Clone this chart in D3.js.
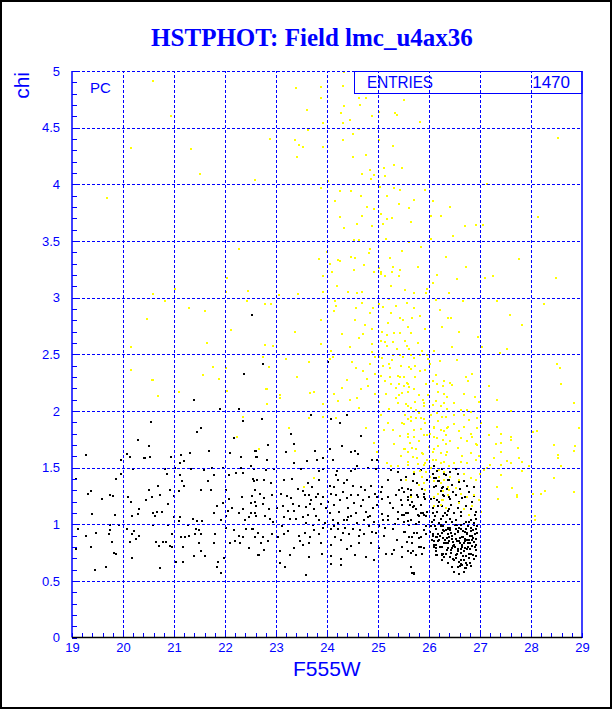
<!DOCTYPE html>
<meta charset="utf-8">
<script src="https://d3js.org/d3.v7.min.js"></script>
<style>
  body { margin: 0; background: #fff; }
</style>
<div id="my_dataviz"></div>
<script>
// ---- data ----
var title = "HSTPHOT: Field lmc_u4ax36";
var xTitle = "F555W", yTitle = "chi";
var cornerLabel = "PC";
var statsLabel = "ENTRIES", statsValue = "1470";
var xTicks = [19, 20, 21, 22, 23, 24, 25, 26, 27, 28, 29];
var yTicks = [0, 0.5, 1, 1.5, 2, 2.5, 3, 3.5, 4, 4.5, 5];

// accepted stars [F555W, chi]
var blackStars = [
[21.39,2.10],[21.91,2.02],[22.28,2.02],[22.35,1.91],[20.55,1.90],[21.45,1.81],[21.53,1.85],[20.29,1.74],[20.50,1.69],[22.18,1.76],[22.59,1.65],[19.28,1.61],[20.08,1.62],[20.14,1.59],[19.97,1.57],[20.41,1.58],[20.44,1.58],[20.53,1.59],[20.95,1.59],[21.14,1.61],[21.31,1.63],[21.20,1.56],[21.11,1.54],[21.69,1.65],[22.10,1.63],[22.31,1.59],[22.61,1.59],[20.20,1.49],[20.83,1.49],[21.02,1.50],[21.33,1.49],[21.58,1.48],[21.75,1.50],[21.97,1.50],[22.31,1.50],[22.50,1.51],
[19.08,1.40],[19.86,1.40],[19.96,1.44],[20.86,1.44],[21.12,1.43],[21.16,1.38],[21.19,1.34],[21.79,1.43],[22.07,1.43],[22.22,1.45],[22.35,1.45],[21.67,1.38],[22.56,1.38],[20.69,1.34],[20.51,1.30],[20.93,1.30],[21.09,1.29],[21.52,1.30],[21.73,1.30],[22.01,1.30],[19.32,1.27],[19.37,1.29],[19.74,1.26],[19.80,1.25],[19.58,1.22],[20.10,1.24],[20.73,1.26],[20.46,1.21],[21.00,1.25],[20.56,1.24],[22.08,1.22],[22.34,1.24],[22.53,1.25],[22.58,1.20],[21.96,1.19],[20.16,1.20],[20.88,1.18],[21.84,1.16],[20.31,1.13],
[19.39,1.09],[19.84,1.08],[20.18,1.07],[20.29,1.09],[20.58,1.10],[20.62,1.07],[20.66,1.11],[20.76,1.11],[21.00,1.06],[21.12,1.06],[21.38,1.05],[21.46,1.03],[21.54,1.03],[21.79,1.10],[21.92,1.04],[22.01,1.07],[22.06,1.12],[22.14,1.14],[22.27,1.10],[22.35,1.13],[22.48,1.06],[22.59,1.10],[22.39,1.04],
[19.12,0.96],[19.28,0.90],[19.47,0.92],[19.74,0.99],[19.74,0.95],[19.73,0.91],[19.93,0.99],[20.08,0.96],[20.17,0.91],[20.21,0.94],[20.26,0.87],[20.31,0.90],[20.59,0.99],[20.88,0.99],[20.97,0.91],[21.09,1.03],[21.14,0.89],[21.21,0.89],[21.28,0.99],[21.30,0.90],[21.42,0.91],[21.49,0.95],[21.53,0.91],[21.44,0.96],[21.80,0.91],[22.01,0.97],[22.17,0.95],[22.28,0.90],[22.35,0.89],[22.42,0.96],[22.52,0.96],[22.58,0.89],
[19.37,0.80],[19.78,0.84],[20.14,0.84],[20.65,0.84],[20.71,0.81],[20.85,0.84],[20.93,0.81],[20.97,0.80],[20.78,0.84],[21.18,0.80],[21.49,0.83],[21.79,0.83],[22.09,0.83],[22.20,0.85],[22.30,0.83],[22.48,0.79],[19.08,0.78],[19.82,0.75],[19.86,0.74],[20.18,0.70],[21.52,0.76],[21.61,0.72],[21.39,0.72],[21.99,0.70],[21.03,0.67],[21.18,0.67],[21.86,0.67],[22.66,0.73],[19.45,0.60],[19.67,0.62],[20.73,0.61],[21.84,0.62],[21.93,0.57],
[22.52,2.85],[22.74,2.41],[22.38,2.33],[24.01,2.43],
[22.73,1.93],[23.69,1.96],[24.07,1.93],[24.39,1.96],[24.26,1.89],[23.29,1.80],[22.85,1.70],[23.35,1.71],[24.67,1.78],[22.60,1.65],[23.19,1.64],[23.76,1.65],[24.05,1.66],[24.29,1.69],[24.47,1.64],[24.54,1.65],[24.61,1.62],[24.88,1.57],[24.98,1.57],[22.63,1.59],[22.82,1.57],[23.35,1.54],[23.61,1.56],[23.80,1.57],[23.93,1.58],[24.11,1.57],[24.59,1.51],[24.80,1.50],[22.51,1.51],[22.57,1.49],
[22.80,1.48],[22.97,1.49],[23.49,1.49],[23.85,1.47],[23.92,1.49],[24.17,1.43],[24.20,1.47],[24.47,1.47],[24.55,1.49],[24.96,1.49],[25.25,1.48],[25.39,1.46],[25.71,1.44],[25.84,1.48],[26.07,1.44],[26.14,1.41],[26.30,1.44],[22.54,1.40],[22.63,1.39],[22.76,1.39],[22.90,1.36],[23.16,1.39],[23.31,1.40],[23.62,1.36],[23.70,1.33],[23.85,1.39],[24.05,1.34],[24.13,1.33],[24.22,1.39],[24.33,1.36],[24.39,1.39],[24.50,1.34],[24.67,1.33],[24.86,1.34],[25.08,1.33],[25.19,1.39],[25.46,1.39],[25.68,1.38],[25.97,1.39],[26.09,1.33],[26.17,1.38],[26.25,1.32],[26.37,1.39],
[22.59,1.30],[22.69,1.27],[22.77,1.23],[22.92,1.26],[23.10,1.27],[23.22,1.25],[23.29,1.23],[23.52,1.29],[23.56,1.26],[23.65,1.26],[23.69,1.21],[23.78,1.24],[23.92,1.24],[24.08,1.27],[24.18,1.26],[24.31,1.28],[24.39,1.23],[24.47,1.26],[24.60,1.26],[24.70,1.21],[24.83,1.24],[24.94,1.27],[24.98,1.24],[25.07,1.22],[25.19,1.24],[25.35,1.26],[25.46,1.21],[25.58,1.24],[25.65,1.26],[25.78,1.24],[25.91,1.27],[26.04,1.22],[26.15,1.21],[26.27,1.26],[26.40,1.24],
[22.51,1.19],[22.61,1.16],[22.74,1.18],[22.87,1.13],[23.02,1.14],[23.13,1.16],[23.23,1.12],[23.36,1.12],[23.46,1.16],[23.59,1.15],[23.67,1.18],[23.75,1.13],[23.88,1.18],[23.98,1.14],[24.05,1.10],[24.14,1.17],[24.24,1.11],[24.41,1.14],[24.41,1.06],[24.39,1.04],[24.47,1.07],[24.57,1.10],[24.67,1.16],[24.76,1.11],[24.90,1.14],[24.99,1.17],[25.07,1.09],[25.19,1.07],[25.29,1.14],[25.39,1.11],[25.48,1.08],[25.58,1.10],[25.68,1.15],[25.78,1.08],[25.88,1.10],[25.97,1.11],[26.07,1.10],[26.17,1.16],[26.27,1.07],[26.37,1.12],
[22.51,1.10],[22.61,1.07],[22.78,1.07],[22.89,1.05],[23.16,1.06],[23.28,1.05],[23.39,1.05],[23.52,1.06],[23.63,1.08],[23.78,1.07],[23.85,1.04],[23.96,1.01],[24.11,1.04],[24.21,1.01],[24.34,1.04],[24.59,1.01],[24.72,1.04],[24.81,1.06],[24.93,1.02],[25.10,1.04],[25.20,1.04],[25.39,1.05],[25.58,1.03],[25.81,1.02],[25.94,1.07],
[22.54,0.96],[22.64,0.92],[22.74,0.89],[22.93,0.91],[23.03,0.89],[23.16,0.91],[23.46,0.90],[23.56,0.92],[23.67,0.89],[23.75,0.95],[23.85,0.91],[23.93,0.97],[24.07,0.96],[24.14,0.98],[24.22,0.96],[24.31,0.92],[24.44,0.91],[24.50,0.96],[24.63,0.90],[24.73,0.91],[24.83,0.98],[24.88,0.93],[25.02,0.98],[25.12,0.90],[25.29,0.96],[25.52,0.93],[25.61,0.89],[25.71,0.92],[25.84,0.89],[25.94,0.91],[26.07,0.91],[26.17,0.91],[26.27,0.98],[26.37,0.96],
[22.71,0.83],[22.85,0.85],[23.07,0.76],[23.36,0.79],[23.52,0.82],[23.65,0.83],[23.88,0.83],[24.08,0.82],[24.27,0.86],[24.47,0.81],[24.63,0.83],[24.86,0.83],[25.02,0.79],[25.32,0.77],[25.48,0.80],[25.65,0.75],[25.91,0.79],[26.14,0.82],[26.27,0.74],[26.37,0.83],[22.64,0.73],[22.77,0.77],[23.28,0.73],[23.65,0.71],[24.08,0.72],[24.27,0.69],[24.54,0.73],[24.76,0.71],[25.15,0.74],[25.28,0.74],[25.48,0.71],[25.68,0.76],[26.14,0.73],[23.08,0.66],[23.18,0.62],[24.08,0.65],[24.27,0.64],[23.59,0.55],[25.71,0.57],
[25.51,1.28],[25.58,1.31],[25.67,1.20],[25.74,1.13],[25.77,1.26],[25.84,1.17],[25.90,1.08],[25.93,1.22],[25.54,1.10],[25.64,1.04],[25.80,1.07],[25.48,1.17],
[26.10,1.51],[26.16,1.47],[26.26,1.49],[26.10,1.41],[26.20,1.38],[26.33,1.43],[26.42,1.46],[26.52,1.49],[26.13,1.34],[26.23,1.29],[26.36,1.31],[26.46,1.35],[26.59,1.37],[26.69,1.38],[26.82,1.41],
[26.10,1.23],[26.20,1.20],[26.29,1.25],[26.42,1.22],[26.52,1.26],[26.65,1.23],[26.78,1.28],[26.88,1.25],[26.07,1.14],[26.16,1.11],[26.26,1.16],[26.39,1.13],[26.49,1.10],[26.62,1.11],[26.72,1.16],[26.82,1.13],[26.92,1.11],
[26.10,1.04],[26.23,1.05],[26.33,1.02],[26.42,1.05],[26.52,1.04],[26.62,1.07],[26.72,1.02],[26.82,1.04],[26.92,1.05],[26.36,1.08],[26.56,1.14],
[25.51,0.93],[25.61,0.89],[25.71,0.92],[25.80,0.88],[25.90,0.95],[25.67,0.83],[25.84,0.80],[25.58,0.76],[25.74,0.73],[25.64,0.62],[25.71,0.56],
[26.03,0.98],[26.13,0.96],[26.23,0.98],[26.33,0.95],[26.42,0.97],[26.52,0.96],[26.62,0.99],[26.72,0.96],[26.82,0.97],[26.92,0.96],
[26.07,0.90],[26.16,0.89],[26.26,0.92],[26.36,0.88],[26.46,0.90],[26.56,0.93],[26.65,0.89],[26.75,0.91],[26.85,0.90],[26.95,0.92],
[26.10,0.85],[26.20,0.86],[26.29,0.83],[26.39,0.85],[26.49,0.82],[26.59,0.85],[26.69,0.83],[26.78,0.86],[26.88,0.84],[26.93,0.82],
[26.13,0.79],[26.26,0.80],[26.36,0.77],[26.46,0.79],[26.56,0.78],[26.65,0.80],[26.75,0.78],[26.85,0.81],[26.92,0.77],
[26.16,0.73],[26.33,0.74],[26.42,0.71],[26.52,0.73],[26.62,0.75],[26.72,0.72],[26.82,0.74],[26.49,0.68],[26.59,0.67],[26.69,0.68],[26.78,0.70],
[26.10,0.80],[26.26,0.73],[26.56,0.62],[26.65,0.64],[26.72,0.61],[26.49,0.58],[26.59,0.56],
[26.11,0.98],[26.24,0.99],[26.37,0.97],[26.50,0.99],[26.63,0.96],[26.76,0.98],[26.89,0.99],[26.30,0.94],[26.43,0.92],[26.57,0.94],[26.70,0.93],[26.83,0.94],[26.91,0.91],
[26.14,0.89],[26.27,0.88],[26.40,0.89],[26.53,0.87],[26.66,0.89],[26.74,0.86],[26.86,0.88],[26.17,0.85],[26.34,0.83],[26.47,0.84],[26.60,0.83],[26.71,0.85],[26.81,0.83],
[26.22,0.80],[26.37,0.79],[26.50,0.80],[26.63,0.78],[26.76,0.80],[26.43,0.75],[26.55,0.74],[26.68,0.76],[26.79,0.74],[26.48,0.69],[26.63,0.68],[26.73,0.66],[26.60,0.63],[26.70,0.61],
[26.09,0.82],[26.14,0.76],[26.25,0.74],[26.30,0.71],
[25.54,1.42],[25.48,1.32],[25.64,1.30],[25.77,1.36],[25.90,1.24],[25.58,1.21],[25.71,1.16],[25.84,1.10],[25.51,1.08],[25.61,0.99],[25.77,0.92],[25.67,0.89],[25.80,0.80],[25.58,0.76],[25.67,0.57],[25.87,0.74],
[26.41,0.95],[26.45,0.87],[26.47,0.81],[26.51,0.91],[26.54,0.85],[26.58,0.97],[26.61,0.88],[26.64,0.82],[26.67,0.94],[26.71,0.87],[26.74,0.92],[26.77,0.83],[26.80,0.90],[26.84,0.86],[26.87,0.95],[26.90,0.80],[26.93,0.87],[26.44,0.77],[26.53,0.70],[26.57,0.76],[26.66,0.72],[26.70,0.79],[26.81,0.78],[26.86,0.73],[26.89,0.69],[26.62,0.65],[26.75,0.64],[26.80,0.66],[26.55,0.99],[26.68,1.00],[26.78,1.02],[26.88,1.01],[26.46,1.02],[26.38,0.91],[26.32,0.86],[26.28,0.95],[26.21,0.90],[26.19,1.01],[26.31,1.10],[26.44,1.17],[26.58,1.20],[26.71,1.24],[26.85,1.20],[26.91,1.08],[26.95,0.98],[26.12,1.07],[26.06,1.02],[26.02,0.93],[26.05,0.86],[26.25,0.68],[26.38,0.66],[26.45,0.62],[26.68,0.58],[26.83,0.63],[26.93,0.72],[26.47,1.28],[26.61,1.31],[26.74,1.34],[26.39,1.39],[26.27,1.33],[26.57,1.44],[26.88,1.33],
[22.95,1.02],[23.12,0.98],[23.24,0.94],[23.33,1.18],[23.43,1.31],[23.58,1.01],[23.72,0.99],[23.83,1.27],[24.02,1.20],[24.16,0.89],[24.25,1.21],[24.36,0.97],[24.52,1.19],[24.65,0.95],[24.74,1.30],[24.85,1.07],[24.97,0.92],[25.05,1.28],[25.14,0.97],[25.23,1.19],[25.33,1.00],[25.41,1.30],[25.50,1.02],[25.57,0.84],[25.62,1.17],[25.75,1.00],[25.86,1.31],[25.95,0.98],[23.48,0.85],[24.40,0.78],[25.38,0.86],[23.90,0.74],[24.92,0.68]
];

// rejected stars [F555W, chi]
var yellowStars = [
[20.57,2.27],[20.69,2.13],[21.10,2.17],[22.03,2.18],[22.35,1.95],[22.24,1.77],[22.67,1.66],
[20.59,4.91],[20.95,4.60],[20.15,4.32],[21.33,4.31],[21.50,4.09],[19.69,3.88],[22.58,4.04],[22.89,4.40],[23.39,4.85],[23.88,4.86],[23.89,4.76],[23.61,4.66],[23.92,4.54],[23.63,4.48],[23.38,4.39],[23.46,4.35],[23.52,4.33],[23.42,4.24],[23.92,4.33],[24.01,4.03],[23.89,3.97],
[22.27,3.43],[23.84,3.34],[24.05,3.30],[23.93,3.19],[22.03,3.17],[22.01,3.05],[22.46,3.06],[23.92,3.05],[23.44,3.03],[23.05,3.02],[20.58,3.03],[21.01,3.08],[20.82,2.97],[21.29,2.91],[21.61,2.88],[22.44,2.97],[22.78,2.94],[22.91,2.94],[20.48,2.81],[22.11,2.71],[23.38,2.70],[23.89,2.80],
[20.16,2.56],[21.64,2.60],[22.78,2.58],[22.95,2.57],[23.88,2.59],[23.20,2.46],[23.64,2.43],[22.74,2.48],[22.87,2.39],[21.76,2.39],[22.01,2.38],[20.15,2.36],[21.56,2.32],[21.88,2.28],[20.58,2.27],[23.41,2.30],[22.80,2.19],
[24.33,4.99],[24.31,4.87],[24.62,4.76],[24.77,4.76],[24.34,4.69],[24.64,4.70],[25.51,4.74],[24.27,4.63],[24.45,4.57],[24.31,4.54],[24.88,4.60],[25.02,4.64],[25.34,4.63],[25.37,4.61],[25.83,4.55],[24.62,4.49],[24.50,4.44],[24.31,4.39],[25.01,4.39],[25.30,4.34],[24.50,4.24],[24.77,4.26],[25.11,4.14],[25.32,4.17],[25.47,4.14],[24.84,4.13],[24.69,4.09],[24.93,4.08],[24.86,4.05],[25.13,4.07],[28.52,4.41],
[24.26,3.94],[24.47,3.94],[24.67,3.90],[25.03,3.98],[25.18,3.90],[25.32,3.97],[25.44,3.95],[25.93,3.95],[25.71,3.86],[25.41,3.83],[25.60,3.79],[24.16,3.85],[24.79,3.80],[24.92,3.78],[26.08,3.85],[26.42,3.80],[27.14,4.00],[28.14,3.71],[24.26,3.71],[24.69,3.72],[25.05,3.74],[25.18,3.69],[25.28,3.70],[25.64,3.67],[24.58,3.65],[24.88,3.63],[25.10,3.65],[26.03,3.72],[26.24,3.72],[26.71,3.63],[26.93,3.64],[27.06,3.64],[26.47,3.54],[24.34,3.61],
[25.15,3.52],[24.52,3.51],[24.63,3.51],[26.03,3.52],[25.60,3.49],[25.47,3.41],[24.00,3.40],[24.84,3.43],[24.82,3.39],[24.47,3.36],[24.55,3.35],[24.21,3.33],[24.26,3.32],[25.85,3.45],[26.34,3.36],[27.77,3.34],[25.24,3.35],[25.01,3.26],[25.06,3.23],[25.05,3.21],[25.43,3.24],[24.52,3.24],[24.72,3.29],[24.93,3.23],[25.13,3.19],[25.30,3.27],[25.27,3.23],[25.78,3.27],[24.10,3.23],[26.72,3.27],[26.15,3.20],[26.55,3.16],[27.09,3.17],[27.25,3.19],[28.49,3.17],[25.41,3.19],
[24.20,3.10],[25.26,3.10],[25.52,3.07],[25.71,3.04],[25.95,3.04],[25.96,3.08],[26.39,3.04],[24.42,3.05],[24.59,3.04],[24.69,3.05],[26.07,3.13],[25.21,2.99],[24.16,2.97],[24.18,2.93],[24.56,2.91],[24.68,2.95],[24.90,2.91],[24.85,2.86],[25.01,2.94],[25.10,2.92],[25.56,2.95],[25.71,2.91],[25.44,2.82],[25.49,2.80],[25.82,2.84],[25.26,2.86],[26.13,2.98],[26.66,2.97],[27.34,2.97],[28.25,2.94],[26.21,2.89],[26.38,2.82],[26.43,2.82],[27.59,2.85],[27.83,2.76],
[24.13,2.88],[24.55,2.80],[24.75,2.76],[24.89,2.72],[25.08,2.70],[25.18,2.67],[25.32,2.69],[25.44,2.69],[25.58,2.74],[25.64,2.69],[26.26,2.74],[26.59,2.70],[24.29,2.68],[24.62,2.64],[24.71,2.68],[24.46,2.56],[24.88,2.59],[25.14,2.61],[25.18,2.57],[25.30,2.61],[25.37,2.55],[25.56,2.57],[25.60,2.55],[25.87,2.53],[24.07,2.53],[26.09,2.53],[26.46,2.56],[26.96,2.65],[27.04,2.56],[27.53,2.55],[27.40,2.51],
[24.12,2.48],[24.49,2.43],[24.84,2.41],[24.95,2.48],[25.01,2.48],[25.08,2.47],[25.21,2.41],[25.30,2.49],[25.44,2.49],[25.49,2.48],[25.64,2.49],[25.71,2.47],[25.83,2.49],[25.96,2.49],[25.98,2.46],[25.10,2.40],[25.23,2.38],[24.95,2.33],[25.06,2.31],[25.60,2.39],[25.64,2.37],[25.73,2.40],[25.83,2.35],[25.39,2.31],[25.44,2.30],[25.51,2.30],[24.39,2.27],[24.79,2.28],[25.13,2.26],[25.24,2.30],[25.56,2.25],[25.58,2.24],[26.13,2.32],[26.16,2.24],[26.29,2.26],[26.42,2.25],[26.46,2.23],[26.72,2.30],[26.76,2.26],[26.85,2.33],[27.18,2.22],[28.50,2.41],[28.57,2.38],[28.58,2.24],[24.05,2.46],
[22.82,2.19],[23.08,2.14],[23.08,2.11],[23.67,2.16],[23.74,2.17],[22.82,2.06],[24.14,2.15],[24.22,2.09],[24.46,2.10],[24.59,2.11],[24.67,2.19],[24.80,2.22],[24.94,2.15],[25.01,2.08],[25.16,2.15],[25.25,2.24],[25.42,2.24],[25.51,2.22],[25.61,2.21],[25.35,2.11],[25.42,2.14],[25.48,2.16],[25.58,2.17],[25.71,2.19],[25.81,2.14],[25.88,2.10],[25.94,2.24],[26.07,2.26],[26.17,2.17],[26.27,2.22],[26.30,2.15],[25.39,2.07],[25.55,2.06],[25.65,2.03],[25.73,2.08],[25.91,2.04],[26.07,2.05],[26.14,2.09],[26.30,2.07],[24.63,2.03],[23.92,2.06],[23.65,1.94],[23.93,1.95],[24.18,1.94],[23.26,1.85],[23.37,1.65],[23.75,1.41],[23.54,1.33],
[25.19,1.89],[25.12,1.83],[25.29,1.83],[25.52,1.96],[25.58,1.93],[25.48,1.89],[25.65,1.91],[25.75,1.94],[25.81,1.98],[25.91,1.93],[26.04,1.96],[26.10,1.85],[26.17,1.91],[26.29,1.82],[26.37,1.86],[25.58,1.80],[25.71,1.77],[25.81,1.73],[25.91,1.79],[26.01,1.80],[26.09,1.77],[26.27,1.74],[26.33,1.71],[25.52,1.66],[25.58,1.64],[25.75,1.66],[25.88,1.62],[25.97,1.57],[26.07,1.64],[26.14,1.57],[26.24,1.54],[26.33,1.61],[26.40,1.51],[24.99,1.64],[25.18,1.54],[25.25,1.51],[25.39,1.51],[25.58,1.52],[25.78,1.53],[25.91,1.52],[25.94,1.46],[26.01,1.42],[26.10,1.38],[26.20,1.42],[26.30,1.39],[26.37,1.33],[25.91,1.36],[26.17,1.27],[26.27,1.29],[26.37,1.26],[26.24,1.17],[26.33,1.14],[26.27,1.21],[26.09,1.16],
[27.34,2.10],[28.84,2.07],[27.60,2.00],[28.03,1.81],[28.12,1.82],[28.95,1.85],[27.01,1.89],[27.18,1.79],[27.34,1.86],[27.41,1.80],[27.61,1.77],[27.61,1.74],[27.31,1.71],[27.41,1.72],[26.95,1.70],[27.41,1.64],[27.75,1.67],[28.45,1.70],[28.84,1.65],[28.87,1.69],[28.52,1.61],[28.52,1.58],[27.27,1.58],[27.52,1.56],[27.60,1.54],[27.20,1.52],[27.41,1.52],[27.83,1.55],[27.83,1.47],[27.76,1.58],[27.96,1.51],[28.58,1.51],[27.14,1.50],[27.08,1.48],[27.00,1.44],[27.41,1.43],[28.46,1.41],[27.33,1.33],[27.63,1.32],[28.27,1.29],[28.19,1.27],[28.03,1.27],[28.84,1.28],[27.72,1.26],[27.73,1.24],[27.36,1.22],[27.01,1.11],[28.08,1.07],[28.08,1.04],
[26.23,2.04],[26.36,2.02],[26.62,2.01],[26.75,2.01],[26.82,1.99],[26.98,2.08],[26.49,2.07],[26.15,1.98],[26.33,1.95],[26.49,1.96],[26.69,1.96],[26.78,1.92],[26.95,1.94],[26.10,1.86],[26.23,1.83],[26.36,1.85],[26.49,1.88],[26.59,1.82],[26.69,1.86],[26.82,1.80],[26.95,1.85],[26.15,1.76],[26.33,1.79],[26.42,1.73],[26.62,1.76],[26.75,1.73],[26.85,1.77],[26.92,1.71],[26.10,1.66],[26.23,1.63],[26.36,1.64],[26.56,1.67],[26.65,1.60],[26.82,1.63],[26.98,1.60],[26.07,1.57],[26.29,1.55],[26.49,1.54],[26.62,1.55],[26.75,1.54],[26.92,1.57],
[26.20,1.48],[26.29,1.46],[26.42,1.42],[26.59,1.39],[26.69,1.44],[26.82,1.41],[26.92,1.39],[26.23,1.36],[26.39,1.30],[26.52,1.32],[26.62,1.27],[26.75,1.24],[26.88,1.26],[26.98,1.21],[26.10,1.24],[26.26,1.21],[26.59,1.19],[26.69,1.13],[26.78,1.08],[26.85,1.16],
[25.58,2.04],[25.74,2.01],[25.90,2.07],[25.64,1.95],[25.84,1.94],[25.51,1.88],[25.71,1.83],[25.93,1.89],[25.58,1.77],[25.80,1.73],[25.97,1.79],[25.51,1.66],[25.67,1.67],[25.87,1.63],[25.58,1.55],[25.77,1.58],[25.93,1.54],[25.71,1.46],[25.87,1.42],[25.54,1.39],[25.80,1.35],[25.93,1.30],[25.64,1.24],
[24.71,2.35],[24.88,2.52],[25.05,2.62],[25.19,2.78],[25.36,2.93],[25.52,2.62],[25.67,2.82],[25.79,2.60],[25.92,2.72],[26.02,2.41],[26.21,2.44],[26.35,2.12],[25.46,2.40],[25.35,2.20],[25.22,2.02],[25.06,1.96],[25.31,1.71],[25.43,1.78],[25.63,1.72],[25.85,1.84],[26.00,1.68],[26.18,1.69],[26.26,1.95],[25.99,2.14],[24.76,1.85],[24.92,1.72],[25.45,1.60],[25.68,1.59],[25.83,1.47],[26.03,1.50],[25.28,2.45],[25.73,2.30],[25.92,2.36],[24.57,2.38],[24.30,2.20],[26.55,2.45],[26.68,2.15],[26.90,2.12]
];

// ---- drawing ----
var width = 612, height = 709;
var plotLeft = 72, plotRight = 582, plotTop = 71, plotBottom = 637.5;
var blue = "#0000ff";

var svg = d3.select("#my_dataviz")
  .append("svg")
    .attr("width", width)
    .attr("height", height)
    .style("display", "block")
    .style("font-family", "'Liberation Sans', Arial, sans-serif");

svg.append("rect")
  .attr("x", 1).attr("y", 1)
  .attr("width", width - 2).attr("height", height - 2)
  .attr("fill", "#fff").attr("stroke", "#000").attr("stroke-width", 2);

var x = d3.scaleLinear().domain([19, 29]).range([plotLeft, plotRight]);
var y = d3.scaleLinear().domain([0, 5]).range([plotBottom, plotTop]);

// points as 2x2 pixel squares
function drawStars(data, color) {
  svg.append("g")
    .attr("shape-rendering", "crispEdges")
    .selectAll("rect")
    .data(data)
    .enter()
    .append("rect")
      .attr("x", function (d) { return Math.round(x(d[0])) - 1; })
      .attr("y", function (d) { return Math.round(y(d[1])) - 1; })
      .attr("width", 2)
      .attr("height", 2)
      .attr("fill", color);
}
drawStars(blackStars, "#000");
drawStars(yellowStars, "#ffff00");

// stats box (white, hides points under it)
svg.append("rect")
  .attr("x", 354.5).attr("y", plotTop + 0.5)
  .attr("width", plotRight - 354.5).attr("height", 22)
  .attr("fill", "#fff").attr("stroke", blue).attr("stroke-width", 1);

// grid
var gridX = svg.append("g")
  .attr("transform", "translate(0," + plotBottom + ")")
  .call(d3.axisBottom(x).tickValues(xTicks.slice(1, -1)).tickSize(-(plotBottom - plotTop)).tickFormat(""));
var gridY = svg.append("g")
  .attr("transform", "translate(" + plotLeft + ",0)")
  .call(d3.axisLeft(y).tickValues(yTicks.slice(1)).tickSize(-(plotRight - plotLeft)).tickFormat(""));
[gridX, gridY].forEach(function (g) {
  g.select(".domain").remove();
  g.selectAll("line")
    .attr("stroke", blue)
    .attr("stroke-dasharray", "3,2")
    .attr("shape-rendering", "crispEdges");
});

// minor ticks
var xMinor = d3.range(19, 29.001, 0.2);
var yMinor = d3.range(0, 5.001, 0.1);
var xMinorAxis = svg.append("g")
  .attr("transform", "translate(0," + plotBottom + ")")
  .call(d3.axisBottom(x).tickValues(xMinor).tickSize(-5).tickFormat(""));
var yMinorAxis = svg.append("g")
  .attr("transform", "translate(" + plotLeft + ",0)")
  .call(d3.axisLeft(y).tickValues(yMinor).tickSize(-5).tickFormat(""));
[xMinorAxis, yMinorAxis].forEach(function (g) {
  g.select(".domain").remove();
  g.selectAll("line").attr("stroke", blue).attr("shape-rendering", "crispEdges");
});

// frame lines
svg.append("line")
  .attr("x1", plotLeft).attr("x2", plotLeft).attr("y1", plotTop).attr("y2", plotBottom)
  .attr("stroke", blue).attr("stroke-width", 1.5);
svg.append("line")
  .attr("x1", plotRight).attr("x2", plotRight).attr("y1", plotTop).attr("y2", plotBottom)
  .attr("stroke", blue).attr("stroke-width", 1.5);
svg.append("line")
  .attr("x1", plotLeft).attr("x2", plotRight).attr("y1", plotBottom).attr("y2", plotBottom)
  .attr("stroke", "#000").attr("stroke-width", 1.5);

// tick labels
var xLab = svg.append("g")
  .attr("transform", "translate(0," + plotBottom + ")")
  .call(d3.axisBottom(x).tickValues(xTicks).tickSize(0).tickPadding(5).tickFormat(d3.format("d")));
var yLab = svg.append("g")
  .attr("transform", "translate(" + plotLeft + ",0)")
  .call(d3.axisLeft(y).tickValues(yTicks).tickSize(0).tickPadding(12).tickFormat(function (d) { return String(d); }));
[xLab, yLab].forEach(function (g) {
  g.select(".domain").remove();
  g.selectAll("text")
    .attr("fill", blue)
    .style("font-family", "'Liberation Sans', Arial, sans-serif")
    .style("font-size", "13px");
});

// titles
svg.append("text")
  .attr("x", 312)
  .attr("y", 46)
  .attr("text-anchor", "middle")
  .attr("fill", blue)
  .style("font-family", "'Liberation Serif', 'Times New Roman', serif")
  .style("font-weight", "bold")
  .style("font-size", "25px")
  .text(title);

svg.append("text")
  .attr("x", 293)
  .attr("y", 676)
  .attr("fill", blue)
  .style("font-size", "21px")
  .text(xTitle);

svg.append("text")
  .attr("transform", "translate(29,72) rotate(-90)")
  .attr("text-anchor", "end")
  .attr("fill", blue)
  .style("font-size", "21px")
  .text(yTitle);

svg.append("text")
  .attr("x", 90)
  .attr("y", 93)
  .attr("fill", blue)
  .style("font-size", "15px")
  .text(cornerLabel);

svg.append("text")
  .attr("x", 367)
  .attr("y", 88)
  .attr("fill", blue)
  .attr("textLength", 66)
  .attr("lengthAdjust", "spacingAndGlyphs")
  .style("font-size", "17px")
  .text(statsLabel);

svg.append("text")
  .attr("x", 570)
  .attr("y", 88)
  .attr("text-anchor", "end")
  .attr("fill", blue)
  .style("font-size", "17px")
  .text(statsValue);
</script>
